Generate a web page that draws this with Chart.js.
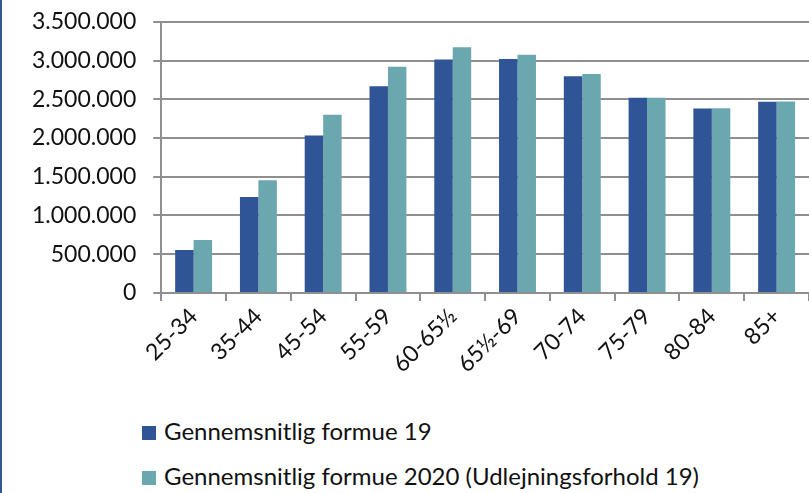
<!DOCTYPE html>
<html>
<head>
<meta charset="utf-8">
<script src="https://cdn.jsdelivr.net/npm/chart.js@4.4.0/dist/chart.umd.min.js"></script>
<style>
    html, body { margin: 0; padding: 0; background: #fff; }
    body { width: 809px; height: 493px; position: relative; overflow: hidden; font-family: Lato, sans-serif; }
    .bordure { position: absolute; left: 0; top: 0; width: 2px; height: 493px; background: #2f5597; }
    #zone { position: absolute; left: 0; top: -9px; width: 809px; height: 409px; }
    .legende { position: absolute; left: 142px; font-size: 24px; color: #111; line-height: 28px; white-space: nowrap; }
    .legende span.carre { display: inline-block; width: 14px; height: 14px; margin-right: 8px; vertical-align: 0px; }
</style>
</head>
<body>
<div class="bordure"></div>
<div id="zone"><canvas id="graphFormue"></canvas></div>
<div id="legendes"></div>

<script>
// ============================================
// Données
// ============================================
var categories = ["25-34", "35-44", "45-54", "55-59", "60-65½", "65½-69", "70-74", "75-79", "80-84", "85+"];
var formue19 = [553000, 1239000, 2033000, 2668000, 3012000, 3020000, 2797000, 2518000, 2381000, 2467000];
var formue2020 = [682000, 1454000, 2300000, 2921000, 3170000, 3076000, 2827000, 2520000, 2383000, 2470000];
var etiquettes = ["Gennemsnitlig formue 19", "Gennemsnitlig formue 2020 (Udlejningsforhold 19)"];
var couleurs = ["#2f5597", "#6ba7ae"];
var yMax = 3500000;
var yPas = 500000;

// Format "3.500.000"
function formatTal(v) {
    return String(v).replace(/\B(?=(\d{3})+(?!\d))/g, ".");
}

// ============================================
// Graphique
// ============================================
var ctx = document.getElementById("graphFormue").getContext("2d");
var graph = new Chart(ctx, {
    type: "bar",
    data: {
        labels: categories,
        datasets: [
            { label: etiquettes[0], data: formue19, backgroundColor: couleurs[0] },
            { label: etiquettes[1], data: formue2020, backgroundColor: couleurs[1] }
        ]
    },
    options: {
        responsive: true,
        maintainAspectRatio: false,
        animation: false,
        layout: { padding: { left: 15, top: 0, right: 0, bottom: 20 } },
        plugins: {
            legend: { display: false },
            tooltip: { enabled: false }
        },
        datasets: {
            bar: { categoryPercentage: 0.57, barPercentage: 1.0 }
        },
        scales: {
            x: {
                grid: { drawOnChartArea: false, drawTicks: true, tickLength: 8, color: "#8f8f8f", lineWidth: 2 },
                border: { color: "#8f8f8f", width: 2 },
                ticks: {
                    autoSkip: false, minRotation: 45, maxRotation: 45,
                    color: "#111", font: { family: "Lato", size: 23 }, padding: 2
                }
            },
            y: {
                min: 0,
                max: yMax,
                grid: { color: "#8f8f8f", lineWidth: 2, tickLength: 8 },
                border: { color: "#8f8f8f", width: 2 },
                ticks: {
                    stepSize: yPas,
                    color: "#111",
                    font: { family: "Lato", size: 23 },
                    padding: 17,
                    callback: function (v) { return formatTal(v); }
                }
            }
        }
    }
});

// Légende en HTML, alignée à gauche
var conteneur = document.getElementById("legendes");
etiquettes.forEach(function (t, i) {
    var div = document.createElement("div");
    div.className = "legende";
    div.style.top = (417 + i * 45) + "px";
    div.innerHTML = '<span class="carre" style="background:' + couleurs[i] + '"></span>' + t;
    conteneur.appendChild(div);
});
</script>
</body>
</html>
